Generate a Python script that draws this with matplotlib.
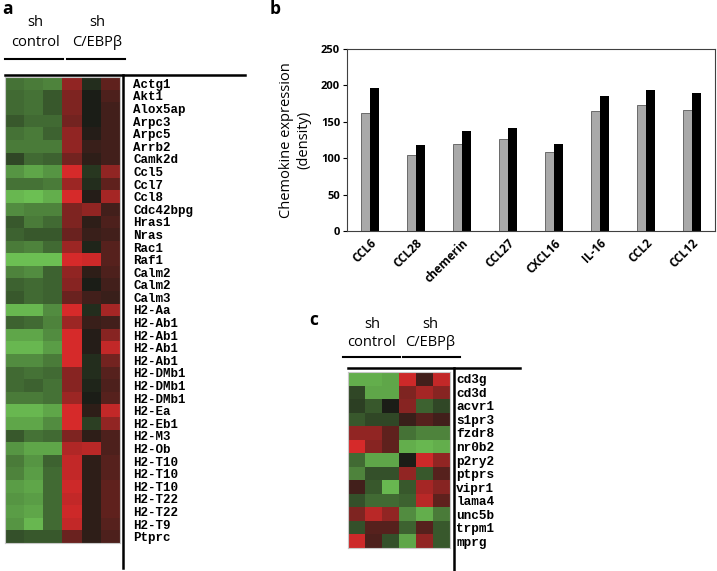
import matplotlib.pyplot as plt
import numpy as np
from matplotlib.colors import LinearSegmentedColormap
from matplotlib.lines import Line2D

W, H = 717, 571

# panel a: 3 sh control columns, then 3 sh C/EBPb columns (log ratio, green<0<red)
genes_a = ['Actg1', 'Akt1', 'Alox5ap', 'Arpc3', 'Arpc5', 'Arrb2', 'Camk2d',
           'Ccl5', 'Ccl7', 'Ccl8', 'Cdc42bpg', 'Hras1', 'Nras', 'Rac1', 'Raf1',
           'Calm2', 'Calm2', 'Calm3', 'H2-Aa', 'H2-Ab1', 'H2-Ab1', 'H2-Ab1',
           'H2-Ab1', 'H2-DMb1', 'H2-DMb1', 'H2-DMb1', 'H2-Ea', 'H2-Eb1', 'H2-M3',
           'H2-Ob', 'H2-T10', 'H2-T10', 'H2-T10', 'H2-T22', 'H2-T22', 'H2-T9',
           'Ptprc']
heat_a = [
    [-0.50, -0.55, -0.60, 0.60, -0.10, 0.35],
    [-0.45, -0.50, -0.35, 0.50, 0.00, 0.25],
    [-0.45, -0.50, -0.35, 0.50, 0.00, 0.20],
    [-0.35, -0.45, -0.45, 0.45, 0.00, 0.20],
    [-0.50, -0.55, -0.40, 0.60, 0.05, 0.20],
    [-0.55, -0.55, -0.55, 0.60, 0.15, 0.20],
    [-0.25, -0.45, -0.40, 0.45, 0.10, 0.20],
    [-0.70, -0.80, -0.70, 0.95, -0.15, 0.60],
    [-0.50, -0.50, -0.55, 0.65, -0.10, 0.35],
    [-0.90, -0.95, -0.85, 0.95, 0.05, 0.70],
    [-0.65, -0.60, -0.60, 0.50, 0.60, 0.20],
    [-0.35, -0.55, -0.45, 0.50, 0.10, 0.25],
    [-0.40, -0.35, -0.35, 0.40, 0.15, 0.20],
    [-0.55, -0.60, -0.45, 0.65, -0.05, 0.30],
    [-0.95, -0.95, -0.95, 0.95, 0.90, 0.30],
    [-0.60, -0.65, -0.40, 0.60, 0.10, 0.25],
    [-0.40, -0.45, -0.40, 0.55, 0.00, 0.20],
    [-0.35, -0.45, -0.40, 0.40, 0.20, 0.15],
    [-0.90, -0.90, -0.65, 0.95, -0.10, 0.70],
    [-0.40, -0.45, -0.60, 0.65, 0.15, 0.20],
    [-0.80, -0.80, -0.65, 0.95, 0.05, 0.55],
    [-0.90, -0.90, -0.75, 0.95, 0.05, 0.85],
    [-0.65, -0.65, -0.55, 0.95, -0.10, 0.45],
    [-0.45, -0.50, -0.45, 0.55, -0.10, 0.30],
    [-0.45, -0.40, -0.50, 0.55, -0.05, 0.25],
    [-0.55, -0.55, -0.50, 0.65, 0.00, 0.30],
    [-0.90, -0.90, -0.80, 0.95, 0.10, 0.85],
    [-0.80, -0.80, -0.65, 0.95, -0.20, 0.60],
    [-0.35, -0.50, -0.45, 0.50, 0.10, 0.25],
    [-0.70, -0.80, -0.80, 0.75, 0.80, 0.25],
    [-0.55, -0.70, -0.40, 0.85, 0.10, 0.30],
    [-0.60, -0.75, -0.45, 0.85, 0.10, 0.30],
    [-0.75, -0.80, -0.45, 0.90, 0.10, 0.35],
    [-0.70, -0.75, -0.45, 0.85, 0.10, 0.35],
    [-0.75, -0.80, -0.45, 0.90, 0.10, 0.35],
    [-0.70, -0.90, -0.45, 0.85, 0.10, 0.30],
    [-0.30, -0.35, -0.35, 0.40, 0.10, 0.25],
]

# panel b
chemokines = ['CCL6', 'CCL28', 'chemerin', 'CCL27', 'CXCL16', 'IL-16', 'CCL2', 'CCL12']
sh_control = [162, 105, 120, 126, 109, 165, 173, 166]
sh_cebpb = [197, 118, 137, 141, 120, 185, 193, 190]

# panel c
genes_c = ['cd3g', 'cd3d', 'acvr1', 's1pr3', 'fzdr8', 'nr0b2', 'p2ry2', 'ptprs',
           'vipr1', 'lama4', 'unc5b', 'trpm1', 'mprg']
heat_c = [
    [-0.85, -0.85, -0.80, 0.90, 0.20, 0.85],
    [-0.25, -0.80, -0.80, 0.50, 0.70, 0.55],
    [-0.20, -0.35, 0.00, 0.55, -0.40, -0.25],
    [-0.35, -0.25, -0.25, 0.15, 0.30, 0.20],
    [0.60, 0.60, 0.35, -0.50, -0.60, -0.60],
    [0.95, 0.55, 0.35, -0.85, -0.90, -0.85],
    [-0.45, -0.80, -0.80, 0.00, 0.90, 0.60],
    [-0.60, -0.30, -0.30, 0.60, -0.35, 0.30],
    [0.20, -0.35, -0.90, -0.35, 0.70, 0.55],
    [-0.30, -0.45, -0.45, -0.40, 0.80, 0.35],
    [0.50, 0.80, 0.60, -0.65, -0.85, -0.55],
    [-0.30, 0.30, 0.30, -0.40, 0.30, -0.35],
    [0.90, 0.25, -0.30, -0.80, 0.60, -0.35],
]

cmap = LinearSegmentedColormap.from_list('gkr', ['#70c856', '#1b1d17', '#e02b2b'])
sans = 'Open Sans'

fig = plt.figure(figsize=(W / 100, H / 100), dpi=100)


def box(x0, y0, x1, y1):
    return [x0 / W, 1 - y1 / H, (x1 - x0) / W, (y1 - y0) / H]


def hline(x0, x1, y, lw=1.8):
    fig.add_artist(Line2D([x0 / W, x1 / W], [1 - y / H] * 2, color='black', lw=lw))


def vline(x, y0, y1, lw=1.8):
    fig.add_artist(Line2D([x / W] * 2, [1 - y0 / H, 1 - y1 / H], color='black', lw=lw))


def heat(rect, data, genes, pad, fs):
    ax = fig.add_axes(box(*rect))
    ax.imshow(np.array(data), cmap=cmap, vmin=-1, vmax=1, aspect='auto',
              interpolation='nearest')
    ax.set_xticks([])
    ax.set_yticks(range(len(genes)))
    ax.set_yticklabels(genes, family='Liberation Mono', weight='bold', fontsize=fs)
    ax.yaxis.tick_right()
    ax.tick_params(axis='y', length=0, pad=pad)
    for s in ax.spines.values():
        s.set_color('#c8c8c8')
        s.set_linewidth(0.8)
    return ax


def header(c1, c2, y_sh, y_name, u1, u2, y_ul):
    fig.text(c1 / W, 1 - y_sh / H, 'sh', ha='center', va='center', family=sans, fontsize=10.5)
    fig.text(c1 / W, 1 - y_name / H, 'control', ha='center', va='center', family=sans, fontsize=10.5)
    fig.text(c2 / W, 1 - y_sh / H, 'sh', ha='center', va='center', family=sans, fontsize=10.5)
    fig.text(c2 / W, 1 - y_name / H, 'C/EBPβ', ha='center', va='center', family=sans, fontsize=10.5)
    hline(u1[0], u1[1], y_ul, 1.5)
    hline(u2[0], u2[1], y_ul, 1.5)


# ---- a
heat((5, 77, 120, 543), heat_a, genes_a, 9.5, 9)
hline(5, 245, 75)
vline(123, 75, 568)
header(35, 97, 23, 43, (5, 63), (67, 125), 59)
fig.text(2 / W, 1 - 9 / H, 'a', weight='bold', fontsize=12.5, va='center', family=sans)

# ---- b
ax = fig.add_axes(box(347, 49, 715, 231))
x = np.arange(len(chemokines))
w = 0.2
ax.bar(x - w / 2, sh_control, w, color='#a9a9a9', edgecolor='#5a5a5a', lw=0.6)
ax.bar(x + w / 2, sh_cebpb, w, color='black')
ax.set_xlim(-0.5, len(chemokines) - 0.5)
ax.set_ylim(0, 250)
ax.set_yticks(range(0, 251, 50))
ax.set_yticklabels([str(v) for v in range(0, 251, 50)], weight='bold', fontsize=8, family=sans)
ax.set_xticks(x)
ax.set_xticklabels(chemokines, rotation=45, ha='right', rotation_mode='anchor',
                   weight='bold', fontsize=8.5, family=sans)
ax.tick_params(axis='x', length=0, pad=4)
ax.tick_params(axis='y', length=3, width=0.8, pad=2)
for s in ax.spines.values():
    s.set_color('#404040')
    s.set_linewidth(0.8)
ax.set_ylabel('Chemokine expression\n(density)', family=sans, fontsize=10.5)
ax.yaxis.set_label_coords(-0.098, 0.5)
fig.text(270 / W, 1 - 9 / H, 'b', weight='bold', fontsize=12.5, va='center', family=sans)

# ---- c
heat((348, 372, 450, 548), heat_c, genes_c, 4.5, 9.2)
hline(348, 520, 368)
vline(454, 368, 571)
header(372, 430, 325, 343, (343, 400), (403, 460), 357)
fig.text(309 / W, 1 - 320 / H, 'c', weight='bold', fontsize=12.5, va='center', family=sans)

fig.savefig('out.png', dpi=100)
